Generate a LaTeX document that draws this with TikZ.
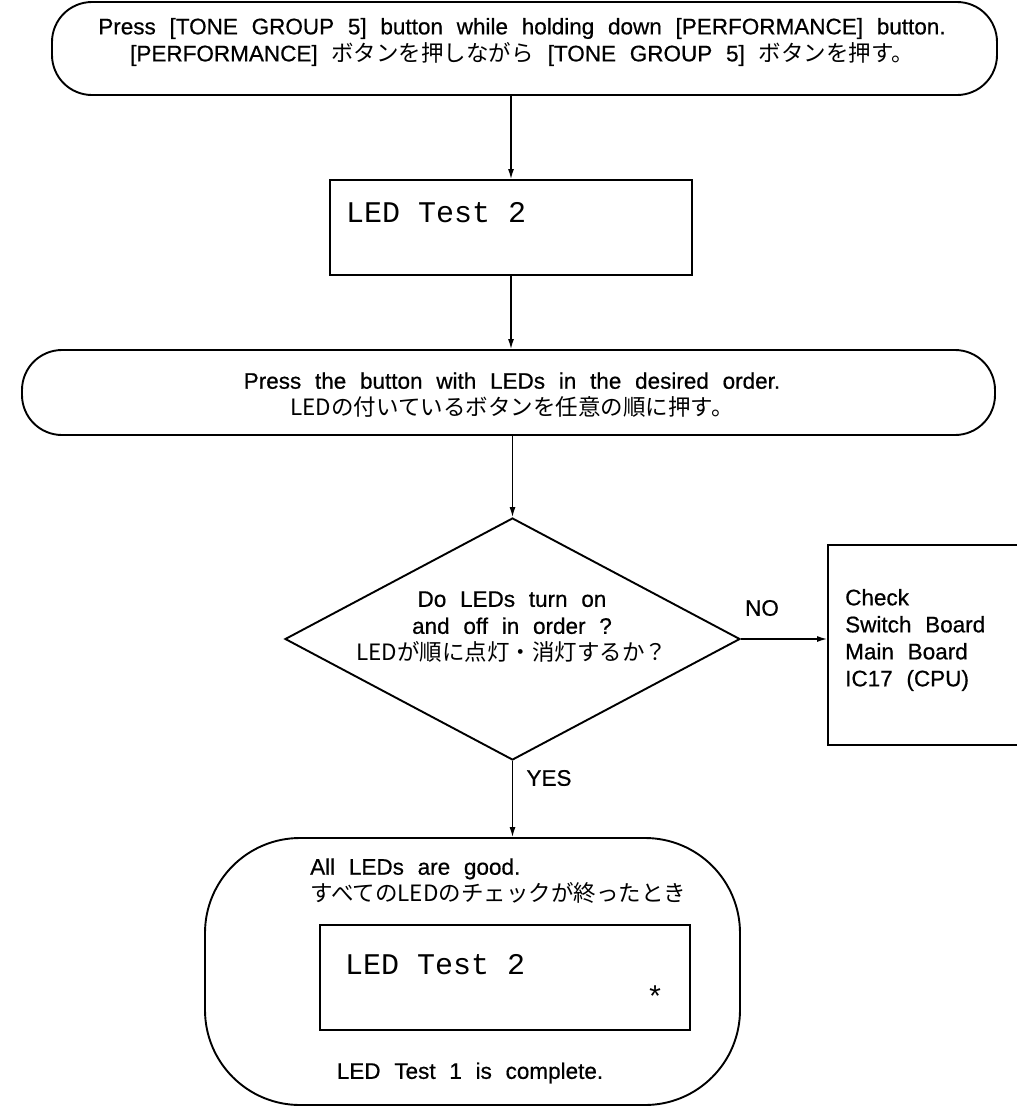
\documentclass[tikz,border=0pt]{standalone}
\usepackage{fontspec}
\setmainfont{Liberation Sans}[WordSpace=2.2,FakeBold=0.6]
\newfontfamily\jp{Noto Sans CJK JP}[WordSpace=2.2]
\newfontfamily\lcd{Liberation Mono}
\usetikzlibrary{shapes.geometric,arrows.meta}
\begin{document}
\begin{tikzpicture}[x=1pt,y=-1pt,
  box/.style={draw,line width=1.9pt,inner sep=0pt},
  flow/.style={line width=1.3pt,-{Latex[length=10pt,width=6pt]}},
  txt/.style={font=\fontsize{22.5}{27}\selectfont,align=center,inner sep=0pt},
  ltxt/.style={font=\fontsize{22.5}{27}\selectfont,align=left,inner sep=0pt,anchor=west},
  lcdtxt/.style={font=\lcd\fontsize{30}{30}\selectfont,inner sep=0pt,anchor=west}]
\useasboundingbox (0,0) rectangle (1017,1109);

% start box
\node[box,rounded corners=40pt,minimum width=945pt,minimum height=93pt] (start) at (524.5,48.5) {};
\node[txt] (starttxt) at (522,42) {Press [TONE GROUP 5] button while holding down [PERFORMANCE] button.\\
{[}PERFORMANCE] {\jp ボタンを押しながら} [TONE GROUP 5] {\jp ボタンを押す。}};

% first LCD
\node[box,minimum width=362pt,minimum height=95pt] (lcd1) at (511,227.5) {};
\node[lcdtxt] (lcd1txt) at (346,213) {LED Test 2};

% press box
\node[box,rounded corners=40pt,minimum width=973pt,minimum height=85pt] (press) at (508.5,392.5) {};
\node[txt] (presstxt) at (512,395) {Press the button with LEDs in the desired order.\\
{\jp LEDの付いているボタンを任意の順に押す。}};

% decision
\node[box,diamond,minimum width=455pt,minimum height=242pt] (dia) at (512.5,639) {};
\node[txt] (diatxt) at (512,627) {Do LEDs turn on\\ and off in order ?\\ {\jp LEDが順に点灯・消灯するか？}};

% check box
\node[box,minimum width=197pt,minimum height=200pt] (check) at (926.5,645) {};
\node[ltxt] (checktxt) at (845,640) {Check\\ Switch Board\\ Main Board\\ IC17 (CPU)};

\node[txt] (no) at (762,608) {NO};
\node[txt] (yes) at (549,778) {YES};

% done box
\node[box,rounded corners=95pt,minimum width=535pt,minimum height=267pt] (done) at (472.5,971.5) {};
\node[ltxt] (donetxt) at (310,881) {All LEDs are good.\\ {\jp すべてのLEDのチェックが終ったとき}};
\node[box,minimum width=370pt,minimum height=105pt] (lcd2) at (505,977.5) {};
\node[lcdtxt] (lcd2txt) at (345,965) {LED Test 2};
\node[lcdtxt,anchor=center] (star) at (655,997) {*};
\node[txt] (complete) at (470,1073) {LED Test 1 is complete.};

% connectors
\draw[flow] (lcd1.north |- start.south) -- (lcd1.north);
\draw[flow] (lcd1.south) -- (lcd1.south |- press.north);
\draw[flow] (dia.north |- press.south) -- (dia.north);
\draw[flow] (dia.east) -- (dia.east -| check.west);
\draw[flow] (dia.south) -- (dia.south |- done.north);
\end{tikzpicture}
\end{document}
